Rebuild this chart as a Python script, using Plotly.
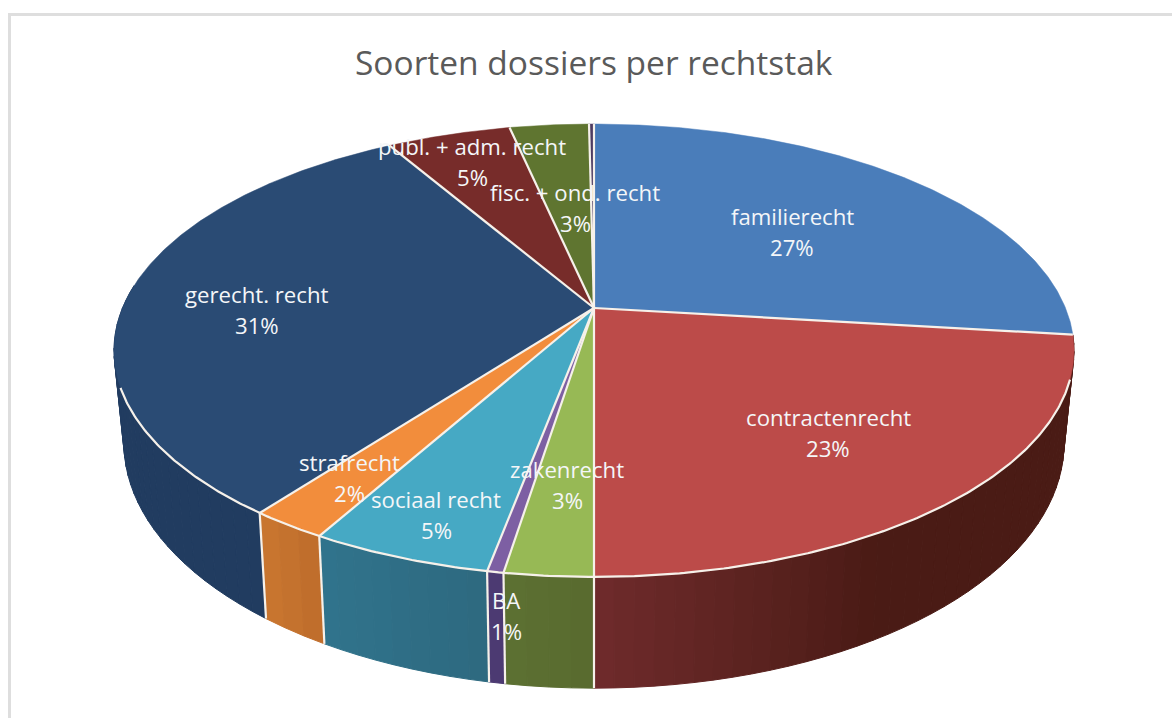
import math
import plotly.graph_objects as go

# ---- data ----
categories = ["familierecht", "contractenrecht", "zakenrecht", "BA", "sociaal recht",
              "strafrecht", "gerecht. recht", "publ. + adm. recht", "fisc. + ond. recht", "overig"]
values = [26.9, 23.1, 2.5, 0.46, 5.14, 2.2, 31.3, 5.0, 3.2, 0.2]
pct_labels = ["27%", "23%", "3%", "1%", "5%", "2%", "31%", "5%", "3%", None]
title_text = "Soorten dossiers per rechtstak"

# ---- styles ----
top_colors = ["#4A7DBA", "#BC4B49", "#97B955", "#7D5FA3", "#46A9C4",
              "#F28D3C", "#2A4B74", "#772C2A", "#5F7530", "#4D3B62"]
wall_left = [None, "#6E2A2B", "#5C7032", "#4C3A72", "#30738C", "#C8752F", "#213C60", None, None, None]
wall_right = [None, "#4A1B15", "#596B2F", "#4C3A72", "#2E6A80", "#C06E2C", "#213C60", None, None, None]
EDGE = "#F6F1EA"
label_anchor = [(792, 232), (828, 433), (567, 485), (506, 616), (436, 515),
                (349, 478), (257, 310), (472, 162), (575, 208), None]
LABEL_SIZE = 22.2
LINE_GAP = 31


# ---- perspective projection of the pie's two circular faces ----
def top_plane(ang):
    X, Y = math.sin(ang), math.cos(ang)
    w = 1 + 0.1876 * Y
    return 594 + 471.5 * X / w, (308 - 160.7 * Y) / w


def low_plane(ang):
    X, Y = math.sin(ang), math.cos(ang)
    w = 1 + 0.19 * Y
    return 594 + 461.5 * X / w, (396.5 - 160.9 * Y) / w


def frange(a, b, step_deg=1.0):
    n = max(2, int(abs(b - a) / math.radians(step_deg)) + 1)
    return [a + (b - a) * i / (n - 1) for i in range(n)]


def mix(c1, c2, t):
    p = [int(c1[i:i + 2], 16) for i in (1, 3, 5)]
    q = [int(c2[i:i + 2], 16) for i in (1, 3, 5)]
    return "rgb(%d,%d,%d)" % tuple(round(a + (b - a) * t) for a, b in zip(p, q))


total = sum(values)
bounds = [0.0]
for v in values:
    bounds.append(bounds[-1] + v / total * 2 * math.pi)

fig = go.Figure()
DEG = math.pi / 180


def poly(xs, ys, fill, line=None, width=1):
    fig.add_trace(go.Scatter(x=xs, y=ys, mode="lines", fill="toself", fillcolor=fill,
                             line=dict(color=line or fill, width=width),
                             hoverinfo="skip", showlegend=False))


def stroke(pts, width=2.2):
    fig.add_trace(go.Scatter(x=[p[0] for p in pts], y=[p[1] for p in pts], mode="lines",
                             line=dict(color=EDGE, width=width),
                             hoverinfo="skip", showlegend=False))


# side wall, split in narrow bands so that the shading can run across a slice
WALL_START, WALL_END = 97 * DEG, 276 * DEG
for i in range(len(values)):
    if wall_left[i] is None:
        continue
    a0, a1 = max(bounds[i], WALL_START), min(bounds[i + 1], WALL_END)
    if a1 <= a0:
        continue
    grid = frange(a1, a0, 2.0)  # left-to-right on screen
    for j in range(len(grid) - 1):
        t = j / max(1, len(grid) - 2)
        if i == 1:
            t = min(1.0, t * 2.8)
        col = mix(wall_left[i], wall_right[i], t)
        seg = frange(grid[j], grid[j + 1], 0.5)
        up = [top_plane(a) for a in seg]
        lo = [low_plane(a) for a in reversed(seg)]
        pts = up + lo + up[:1]
        poly([p[0] for p in pts], [p[1] for p in pts], col)

# vertical edges between the wall pieces
for i in range(2, 7):
    stroke([top_plane(bounds[i]), low_plane(bounds[i])])

# top face: fills first, then the dividers and the lit front rim
centre = (594, 308)
for i in range(len(values)):
    arc = [top_plane(a) for a in frange(bounds[i], bounds[i + 1], 0.5)]
    pts = [centre] + arc + [centre]
    poly([p[0] for p in pts], [p[1] for p in pts], top_colors[i], top_colors[i], 0.5)
for b in bounds[:-1]:
    stroke([centre, top_plane(b)])
stroke([top_plane(a) for a in frange(108 * DEG, 250 * DEG, 0.5)])

annotations = []
for name, pct, anchor in zip(categories, pct_labels, label_anchor):
    if anchor is None:
        continue
    annotations.append(dict(x=anchor[0], y=anchor[1] - LINE_GAP / 2, text=name, showarrow=False,
                            font=dict(family="Open Sans", size=LABEL_SIZE, color="#F4F6F8"),
                            xanchor="center", yanchor="middle"))
    annotations.append(dict(x=anchor[0], y=anchor[1] + LINE_GAP / 2, text=pct, showarrow=False,
                            font=dict(family="Open Sans", size=LABEL_SIZE, color="#F4F6F8"),
                            xanchor="center", yanchor="middle"))
annotations.append(dict(x=594, y=62, text=title_text, showarrow=False,
                        font=dict(family="Open Sans", size=33.5, color="#5A5A5A"),
                        xanchor="center", yanchor="middle"))

fig.update_layout(
    width=1172, height=718, autosize=False,
    margin=dict(l=0, r=0, t=0, b=0),
    paper_bgcolor="#FFFFFF", plot_bgcolor="#FFFFFF",
    showlegend=False,
    xaxis=dict(range=[0, 1172], visible=False, fixedrange=True),
    yaxis=dict(range=[718, 0], visible=False, fixedrange=True),
    annotations=annotations,
    shapes=[dict(type="line", xref="x", yref="y", x0=9.5, x1=9.5, y0=14, y1=718,
                 line=dict(color="#DEDEDE", width=3)),
            dict(type="line", xref="x", yref="y", x0=8, x1=1172, y0=14.5, y1=14.5,
                 line=dict(color="#DEDEDE", width=3))],
)
fig.write_html("out.html", config=dict(displayModeBar=False),
               post_script="document.body.style.margin='0';")
